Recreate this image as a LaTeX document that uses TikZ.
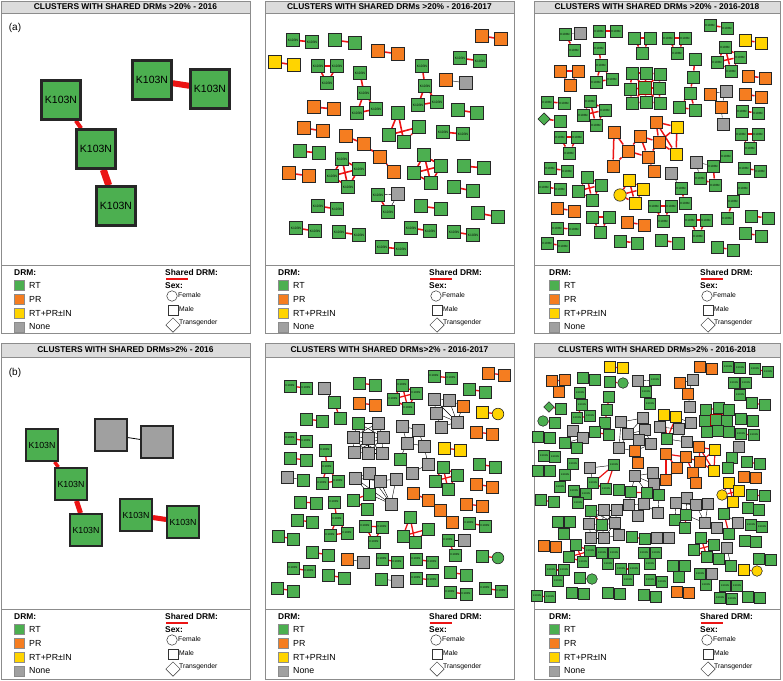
\documentclass[tikz,border=0pt]{standalone}
\usepackage{fontspec}
\setmainfont{Liberation Sans}
\usetikzlibrary{shapes.geometric}
\pgfdeclarelayer{bg}
\pgfsetlayers{bg,main}
\definecolor{cg}{RGB}{76,175,80}
\definecolor{co}{RGB}{245,125,32}
\definecolor{cy}{RGB}{255,212,0}
\definecolor{cn}{RGB}{160,160,160}
\definecolor{cred}{RGB}{235,20,20}
\definecolor{hdr}{RGB}{220,220,220}
\definecolor{cfr}{RGB}{140,140,140}
\tikzset{
 nb/.style={minimum size=13pt, line width=0.6pt},
 base/.style={rectangle, draw=black!85, inner sep=0pt, nb},
 G/.style={base, fill=cg},
 O/.style={base, fill=co},
 Y/.style={base, fill=cy},
 N/.style={base, fill=cn},
 GC/.style={G, circle},
 YC/.style={Y, circle},
 GD/.style={G, diamond},
 kf/.style={font=\fontsize{3}{3}\selectfont},
 Gk/.style={G, label={[kf, inner sep=0pt]center:K103N}},
 Gr/.style={G, draw=red!60!black, line width=1.3pt},
 shw/.style={line width=1.4pt},
 sh/.style={draw=cred, shw},
 tn/.style={draw=black, line width=0.4pt},
 lgb/.style={anchor=west, inner sep=0pt, font=\bfseries\fontsize{8.4}{9}\selectfont},
 ltx/.style={anchor=west, inner sep=0pt, font=\fontsize{8.8}{9}\selectfont},
 lsm/.style={anchor=west, inner sep=0pt, font=\fontsize{6.8}{7}\selectfont},
 lsq/.style={rectangle, draw=black!45, line width=.4pt, minimum size=9.5pt, inner sep=0pt},
 lsh/.style={draw=black!80, line width=.5pt, inner sep=0pt, fill=white},
}
\newcommand\panelframe[8]{%
 \draw[cfr, line width=0.8pt] (#2,#4) rectangle (#3,#7);
 \draw[cfr, fill=hdr, line width=0.8pt] (#2,#4) rectangle (#3,#5);
 \draw[cfr, line width=0.8pt] (#2,#6) -- (#3,#6);
 \node[font=\bfseries\fontsize{8.4}{9}\selectfont, inner sep=0pt] (#1title) at ({(#2+#3)/2},{(#4+#5)/2}) {#8};
}
\newcommand\drmlegend[3]{%
\begin{scope}[shift={(#2,#3)}]
\node[lgb] (#1drm) at (13,8) {DRM:};
\node[lsq,fill=cg] (#1q1) at (18,20) {};
\node[lsq,fill=co] (#1q2) at (18,34) {};
\node[lsq,fill=cy] (#1q3) at (18,48) {};
\node[lsq,fill=cn] (#1q4) at (18,62) {};
\node[ltx] (#1t1) at (28,20) {RT};
\node[ltx] (#1t2) at (28,34) {PR};
\node[ltx] (#1t3) at (28,48) {RT+PR±IN};
\node[ltx] (#1t4) at (28,62) {None};
\node[lgb] (#1sd) at (164,7) {Shared DRM:};
\coordinate (#1la) at (165,14);
\coordinate (#1lb) at (187,14);
\draw[cred, line width=1.2pt] (#1la) -- (#1lb);
\node[lgb] (#1sex) at (164,21) {Sex:};
\node[lsh, circle, minimum size=10.5pt] (#1fc) at (171,31) {};
\node[lsm] (#1ft) at (177,30) {Female};
\node[lsh, rectangle, minimum size=10.5pt] (#1mc) at (172,45) {};
\node[lsm] (#1mt) at (178,44) {Male};
\node[lsh, diamond, minimum size=14.5pt] (#1tc) at (172,60) {};
\node[lsm] (#1tt) at (178,58) {Transgender};
\end{scope}}
\begin{document}
\begin{tikzpicture}[x=1pt,y=-1pt]
\useasboundingbox (0,0) rectangle (783,680);
\begin{pgfonlayer}{bg}
\fill[white] (0,0) rectangle (783,680);
\end{pgfonlayer}
% frames
\panelframe{pa}{1}{250}{1}{13}{265}{333}{CLUSTERS WITH SHARED DRMs >20\% - 2016}
\panelframe{pb}{265}{514}{1}{13}{265}{333}{CLUSTERS WITH SHARED DRMs >20\% - 2016-2017}
\panelframe{pc}{534}{780}{1}{13}{265}{333}{CLUSTERS WITH SHARED DRMs >20\% - 2016-2018}
\panelframe{pd}{1}{250}{343}{357}{609}{679}{CLUSTERS WITH SHARED DRMs>2\% - 2016}
\panelframe{pe}{265}{514}{343}{357}{609}{679}{CLUSTERS WITH SHARED DRMs>2\% - 2016-2017}
\panelframe{pf}{534}{780}{343}{357}{609}{679}{CLUSTERS WITH SHARED DRMs>2\% - 2016-2018}
\drmlegend{la}{1}{265}
\drmlegend{lb}{265}{265}
\drmlegend{lc}{536}{265}
\drmlegend{ld}{1}{609}
\drmlegend{le}{265}{609}
\drmlegend{lf}{536}{609}
\node[font=\fontsize{10}{12}\selectfont, inner sep=0pt] (taga) at (15,28) {(a)};
\node[font=\fontsize{10}{12}\selectfont, inner sep=0pt] (tagb) at (15,373) {(b)};
% ---------- panel 1
\begin{scope}[nb/.style={minimum size=38.5pt, line width=3pt}, kf/.style={font=\fontsize{10.5}{11}\selectfont}]
\foreach \nm/\st/\x/\y in {a1/Gk/61/100, a2/Gk/96/149, a3/Gk/116/206, a4/Gk/152/80, a5/Gk/210/89}
  \node[\st] (\nm) at (\x,\y) {};
\begin{pgfonlayer}{bg}
\draw[cred, line width=4pt] (a1) -- (a2);
\draw[cred, line width=7pt] (a2) -- (a3);
\draw[cred, line width=6pt] (a4) -- (a5);
\end{pgfonlayer}
\end{scope}
% ---------- panel 4
\begin{scope}[nb/.style={minimum size=31.5pt, line width=2.4pt}, kf/.style={font=\fontsize{8.8}{9}\selectfont}]
\foreach \nm/\st/\x/\y in {d1/N/111/435, d2/N/157/442, d3/Gk/42/445, d4/Gk/71/484, d5/Gk/86/530, d6/Gk/136/515, d7/Gk/183/522}
  \node[\st] (\nm) at (\x,\y) {};
\begin{pgfonlayer}{bg}
\draw[black, line width=0.8pt] (d1) -- (d2);
\draw[cred, line width=3.5pt] (d3) -- (d4);
\draw[cred, line width=5pt] (d4) -- (d5);
\draw[cred, line width=5pt] (d6) -- (d7);
\end{pgfonlayer}
\end{scope}
% ---------- panel 2
\begin{scope}[nb/.style={minimum size=13.4pt, line width=0.6pt}, kf/.style={font=\fontsize{3.3}{3.5}\selectfont}, shw/.style={line width=1.6pt}]
\foreach \nm/\st/\x/\y in {b1/Gk/293/40, b2/Gk/312/42, b3/G/335/40, b4/G/355/43, b5/O/482/36, b6/O/501/39, b7/Y/275/62, b8/Y/294/65, b9/Gk/318/66, b10/Gk/337/66, b11/Gk/327/83, b12/O/378/51, b13/O/398/54, b14/Gk/460/58, b15/Gk/480/61, b16/Gk/360/73, b17/Gk/364/93, b18/Gk/357/113, b19/Gk/376/109, b20/Gk/422/66, b21/Gk/425/86, b22/Gk/418/105, b23/Gk/437/102, b24/O/446/80, b25/N/466/83, b26/O/314/107, b27/O/334/109, b28/G/458/110, b29/G/477/113, b30/G/398/113, b31/G/419/127, b32/G/389/135, b33/G/404/142, b34/O/304/128, b35/O/323/131, b36/Gk/443/132, b37/Gk/463/134, b38/O/346/136, b39/O/364/144, b40/O/380/157, b41/O/394/172, b42/G/300/151, b43/G/319/153, b44/Gk/342/159, b45/Gk/359/169, b46/Gk/332/176, b47/Gk/348/187, b48/G/424/155, b49/G/441/166, b50/G/414/173, b51/G/431/183, b52/O/289/173, b53/O/309/176, b54/G/464/166, b55/G/484/168, b56/G/454/187, b57/G/473/191, b58/Gk/378/195, b59/N/398/194, b60/Gk/388/212, b61/Gk/318/206, b62/Gk/337/209, b63/G/421/206, b64/G/441/209, b65/G/478/213, b66/G/498/217, b67/Gk/296/228, b68/Gk/315/231, b69/Gk/339/232, b70/Gk/359/235, b71/Gk/411/228, b72/Gk/430/231, b73/Gk/454/232, b74/Gk/473/235, b75/Gk/382/247, b76/Gk/401/249}
  \node[\st] (\nm) at (\x,\y) {};
\begin{pgfonlayer}{bg}
\foreach \a/\b in {b1/b2, b3/b4, b5/b6, b7/b8, b9/b10, b9/b11, b10/b11, b12/b13, b14/b15, b16/b17, b17/b18, b17/b19, b18/b19, b20/b21, b21/b22, b21/b23, b22/b23, b26/b27, b28/b29, b30/b32, b30/b33, b31/b32, b31/b33, b34/b35, b36/b37, b38/b39, b39/b40, b40/b41, b42/b43, b44/b45, b44/b46, b44/b47, b45/b46, b45/b47, b46/b47, b48/b49, b48/b50, b48/b51, b49/b50, b49/b51, b50/b51, b52/b53, b54/b55, b56/b57, b58/b60, b61/b62, b63/b64, b65/b66, b67/b68, b69/b70, b71/b72, b73/b74, b75/b76}
  \draw[sh] (\a) -- (\b);
\foreach \a/\b in {b24/b25, b58/b59, b59/b60}
  \draw[tn] (\a) -- (\b);
\end{pgfonlayer}
\end{scope}
% ---------- panel 3
\begin{scope}[nb/.style={minimum size=12.4pt, line width=0.6pt}, kf/.style={font=\fontsize{3}{3}\selectfont}, shw/.style={line width=1.5pt}]
\foreach \nm/\st/\x/\y in {c1/Gk/565/34, c2/N/580/33, c3/Gk/574/50, c4/Gk/599/31, c5/Gk/616/31, c6/G/634/38, c7/G/650/38, c8/G/642/53, c9/Gk/668/38, c10/Gk/685/38, c11/Gk/677/53, c12/Gk/710/25, c13/Gk/727/28, c14/Y/745/40, c15/Y/761/43, c16/Gk/599/48, c17/Gk/601/65, c18/Gk/596/82, c19/Gk/612/79, c20/Gk/725/47, c21/Gk/717/62, c22/Gk/740/57, c23/Gk/731/71, c24/O/560/71, c25/O/578/71, c26/O/570/85, c27/G/632/73, c28/G/646/73, c29/G/660/74, c30/G/630/89, c31/Gr/645/88, c32/G/659/88, c33/G/632/103, c34/G/646/102, c35/G/660/103, c36/G/695/59, c37/G/693/77, c38/G/690/93, c39/G/679/107, c40/G/695/110, c41/O/748/76, c42/O/765/78, c43/Gk/547/102, c44/Gk/564/103, c45/O/710/94, c46/N/726/91, c47/O/721/107, c48/N/723/124, c49/O/745/94, c50/O/761/97, c51/Gk/590/101, c52/Gk/605/110, c53/Gk/583/115, c54/Gk/596/125, c55/GD/544/119, c56/G/560/121, c57/Gk/742/111, c58/Gk/758/113, c59/O/656/122, c60/Y/677/127, c61/O/614/132, c62/O/640/136, c63/O/659/142, c64/O/628/151, c65/Y/676/154, c66/O/648/157, c67/O/613/166, c68/O/654/171, c69/Gk/560/137, c70/Gk/577/137, c71/Gk/569/153, c72/Gk/741/134, c73/Gk/758/134, c74/Gk/750/148, c75/N/696/162, c76/Gk/713/166, c77/Gk/726/156, c78/Gk/700/178, c79/Gk/715/185, c80/Gk/550/168, c81/Gk/567/171, c82/Gk/744/168, c83/Gk/760/171, c84/N/671/173, c85/Gk/681/188, c86/Gk/685/203, c87/G/587/177, c88/G/601/185, c89/G/578/191, c90/G/592/200, c91/Y/629/180, c92/Y/643/189, c93/YC/620/195, c94/Y/635/203, c95/Gk/544/187, c96/Gk/560/189, c97/Gk/743/188, c98/Gk/733/201, c99/Gk/727/218, c100/O/557/208, c101/O/574/211, c102/Gk/654/206, c103/Gk/671/206, c104/Gk/663/221, c105/G/592/217, c106/G/609/217, c107/G/600/232, c108/Gk/690/220, c109/Gk/706/220, c110/Gk/698/236, c111/G/751/216, c112/G/768/218, c113/O/627/222, c114/O/644/225, c115/Gk/557/228, c116/Gk/574/229, c117/G/745/233, c118/G/761/236, c119/Gk/547/243, c120/Gk/563/246, c121/G/620/241, c122/G/637/243, c123/G/661/240, c124/G/678/243, c125/G/717/247, c126/G/733/250}
  \node[\st] (\nm) at (\x,\y) {};
\begin{pgfonlayer}{bg}
\foreach \a/\b in {c1/c3, c4/c5, c6/c7, c6/c8, c7/c8, c9/c10, c9/c11, c10/c11, c12/c13, c14/c15, c16/c17, c17/c18, c17/c19, c18/c19, c20/c21, c20/c22, c21/c22, c21/c23, c22/c23, c20/c23, c24/c25, c24/c26, c25/c26, c27/c28, c28/c29, c30/c31, c31/c32, c33/c34, c34/c35, c27/c30, c30/c33, c28/c31, c31/c34, c29/c32, c32/c35, c27/c31, c29/c31, c33/c31, c35/c31, c36/c37, c37/c38, c38/c39, c38/c40, c39/c40, c41/c42, c43/c44, c45/c47, c49/c50, c51/c52, c51/c53, c51/c54, c52/c53, c52/c54, c53/c54, c55/c56, c57/c58, c59/c60, c59/c63, c59/c65, c60/c63, c60/c65, c61/c64, c61/c67, c62/c64, c62/c63, c62/c66, c63/c66, c63/c65, c64/c67, c64/c66, c66/c68, c69/c70, c69/c71, c70/c71, c72/c73, c72/c74, c73/c74, c76/c77, c76/c79, c76/c78, c78/c79, c80/c81, c82/c83, c85/c86, c87/c88, c87/c89, c87/c90, c88/c89, c88/c90, c89/c90, c91/c92, c91/c93, c91/c94, c92/c93, c92/c94, c93/c94, c95/c96, c97/c98, c98/c99, c100/c101, c102/c103, c102/c104, c103/c104, c105/c106, c105/c107, c106/c107, c108/c109, c108/c110, c109/c110, c111/c112, c113/c114, c115/c116, c117/c118, c119/c120, c121/c122, c123/c124, c125/c126}
  \draw[sh] (\a) -- (\b);
\foreach \a/\b in {c1/c2, c45/c46, c46/c47, c47/c48, c75/c76, c75/c78, c84/c85}
  \draw[tn] (\a) -- (\b);
\end{pgfonlayer}
\end{scope}
% ---------- panel 5
\begin{scope}[nb/.style={minimum size=11.6pt, line width=0.6pt}, kf/.style={font=\fontsize{2.8}{3}\selectfont}, shw/.style={line width=1.3pt}]
\foreach \nm/\st/\x/\y in {e1/Gk/290/386, e2/Gk/306/388, e3/N/324/388, e4/G/334/402, e5/G/340/418, e6/G/359/383, e7/G/375/385, e8/Gk/402/385, e9/Gk/416/393, e10/Gk/393/399, e11/Gk/408/408, e12/Gk/434/376, e13/Gk/451/378, e14/O/488/373, e15/O/504/375, e16/G/469/389, e17/G/485/392, e18/O/359/403, e19/O/375/405, e20/N/434/399, e21/N/449/400, e22/N/436/413, e23/N/441/427, e24/N/457/422, e25/O/463/406, e26/Y/482/412, e27/YC/498/414, e28/G/306/419, e29/G/322/421, e30/G/358/423, e31/N/378/423, e32/N/353/437, e33/N/368/438, e34/N/383/437, e35/N/354/452, e36/N/368/453, e37/N/382/453, e38/N/402/426, e39/N/418/430, e40/N/407/443, e41/N/424/446, e42/N/428/464, e43/N/412/473, e44/G/400/459, e45/O/476/432, e46/O/492/434, e47/Gk/290/438, e48/Gk/306/441, e49/Y/444/448, e50/Y/460/450, e51/Gk/325/450, e52/Gk/327/467, e53/Gk/322/483, e54/Gk/338/481, e55/G/290/458, e56/G/306/460, e57/G/479/464, e58/G/495/467, e59/G/443/467, e60/G/457/475, e61/G/435/481, e62/G/448/489, e63/N/287/477, e64/G/303/480, e65/N/355/478, e66/N/369/473, e67/N/380/481, e68/N/396/479, e69/G/369/494, e70/G/353/500, e71/G/367/509, e72/N/391/504, e73/O/413/493, e74/O/428/500, e75/O/440/510, e76/O/452/522, e77/O/476/484, e78/O/492/487, e79/G/300/502, e80/G/316/503, e81/O/466/504, e82/O/482/506, e83/Gk/334/502, e84/Gk/337/519, e85/Gk/330/535, e86/Gk/347/533, e87/G/297/520, e88/G/312/522, e89/G/410/517, e90/G/428/529, e91/G/403/536, e92/G/415/542, e93/Gk/365/526, e94/Gk/382/527, e95/Gk/374/542, e96/Gk/469/523, e97/Gk/485/526, e98/G/278/536, e99/G/293/539, e100/Gk/448/540, e101/N/464/540, e102/Gk/455/555, e103/G/312/552, e104/G/328/555, e105/G/482/556, e106/GC/498/558, e107/O/347/559, e108/N/363/562, e109/Gk/382/559, e110/Gk/397/562, e111/Gk/416/559, e112/Gk/432/562, e113/Gk/293/568, e114/Gk/309/571, e115/G/328/575, e116/G/344/578, e117/G/450/572, e118/G/466/575, e119/G/381/579, e120/N/397/581, e121/Gk/416/578, e122/Gk/432/580, e123/G/277/588, e124/G/293/591, e125/Gk/450/592, e126/Gk/466/594, e127/Gk/485/588, e128/Gk/501/591}
  \node[\st] (\nm) at (\x,\y) {};
\begin{pgfonlayer}{bg}
\foreach \a/\b in {e1/e2, e4/e5, e6/e7, e8/e9, e8/e10, e8/e11, e9/e10, e9/e11, e10/e11, e12/e13, e14/e15, e16/e17, e18/e19, e26/e27, e28/e29, e45/e46, e47/e48, e49/e50, e51/e52, e52/e53, e52/e54, e53/e54, e55/e56, e57/e58, e59/e60, e59/e61, e59/e62, e60/e61, e60/e62, e61/e62, e69/e70, e70/e71, e73/e74, e74/e75, e75/e76, e77/e78, e79/e80, e81/e82, e83/e84, e84/e85, e84/e86, e85/e86, e87/e88, e89/e91, e89/e92, e90/e91, e90/e92, e91/e92, e93/e94, e93/e95, e94/e95, e96/e97, e98/e99, e100/e102, e103/e104, e105/e106, e109/e110, e111/e112, e113/e114, e115/e116, e117/e118, e121/e122, e123/e124, e125/e126, e127/e128}
  \draw[sh] (\a) -- (\b);
\foreach \a/\b in {e3/e4, e20/e21, e20/e22, e21/e22, e22/e23, e22/e24, e21/e24, e23/e24, e24/e25, e20/e24, e21/e25, e30/e31, e30/e32, e30/e33, e31/e33, e31/e34, e32/e33, e33/e34, e32/e35, e33/e36, e34/e37, e35/e36, e36/e37, e32/e36, e33/e35, e33/e37, e34/e36, e31/e32, e30/e34, e32/e37, e35/e34, e38/e39, e38/e40, e39/e41, e40/e41, e41/e42, e42/e43, e40/e44, e39/e40, e43/e44, e63/e64, e65/e66, e65/e67, e66/e67, e67/e68, e65/e69, e66/e69, e67/e69, e67/e72, e69/e72, e68/e72, e66/e72, e65/e72, e100/e101, e107/e108, e119/e120}
  \draw[tn] (\a) -- (\b);
\end{pgfonlayer}
\end{scope}
% ---------- panel 6
\begin{scope}[nb/.style={minimum size=10.6pt, line width=0.55pt}, kf/.style={font=\fontsize{2.5}{3}\selectfont}, shw/.style={line width=1.2pt}]
\foreach \nm/\st/\x/\y in {f1/Y/610/367, f2/Y/623/368, f3/O/700/367, f4/O/712/369, f5/Gk/728/367, f6/Gk/740/368, f7/Gk/755/369, f8/Gk/768/372, f9/O/552/381, f10/O/565/380, f11/O/559/392, f12/G/583/378, f13/G/595/380, f14/G/610/382, f15/GC/623/383, f16/N/638/381, f17/Gk/655/380, f18/Gk/646/392, f19/Gk/650/404, f20/O/680/383, f21/N/693/380, f22/O/688/394, f23/N/690/407, f24/Gk/734/383, f25/Gk/746/383, f26/Gk/740/395, f27/Gk/580/393, f28/Gk/582/405, f29/Gk/577/418, f30/Gk/590/416, f31/GD/549/407, f32/G/561/409, f33/G/609/397, f34/G/607/410, f35/G/605/423, f36/G/595/432, f37/G/609/435, f38/G/752/403, f39/G/765/405, f40/Y/664/415, f41/Y/676/417, f42/N/660/427, f43/N/679/429, f44/G/667/439, f45/N/691/423, f46/N/687/442, f47/G/706/410, f48/G/719/408, f49/G/729/410, f50/G/705/421, f51/Gr/716/420, f52/G/727/421, f53/G/707/432, f54/G/718/431, f55/G/729/432, f56/GC/543/421, f57/G/555/423, f58/N/621/422, f59/N/643/418, f60/N/645/430, f61/N/628/434, f62/N/639/440, f63/N/651/444, f64/N/619/448, f65/O/635/451, f66/O/638/463, f67/G/741/419, f68/G/753/421, f69/N/573/431, f70/N/583/438, f71/G/565/443, f72/G/577/448, f73/G/538/437, f74/G/550/438, f75/Gk/741/434, f76/Gk/754/435, f77/N/739/447, f78/G/732/458, f79/G/728/468, f80/O/699/447, f81/Y/715/450, f82/O/666/454, f83/O/686/457, f84/O/700/462, f85/O/677/468, f86/Y/714/471, f87/O/693/473, f88/O/666/480, f89/O/696/483, f90/Gk/544/456, f91/Gk/555/457, f92/G/747/462, f93/G/760/464, f94/G/538/471, f95/G/550/471, f96/Gk/573/464, f97/Gk/565/475, f98/Gk/560/487, f99/N/590/468, f100/Gk/614/465, f101/Gk/593/483, f102/Gk/606/489, f104/O/744/477, f105/O/756/478, f106/N/635/476, f107/N/653/473, f108/N/654/484, f109/G/619/490, f110/G/631/492, f111/G/647/493, f112/G/659/495, f113/N/629/505, f114/N/644/504, f115/N/658/513, f116/N/638/516, f117/Y/729/483, f118/YC/722/495, f119/Y/739/491, f120/Y/733/502, f121/Gk/574/491, f122/Gk/586/494, f123/Gk/578/503, f125/G/541/500, f126/G/554/502, f127/G/752/495, f128/G/765/496, f129/N/676/503, f130/N/687/498, f131/N/696/505, f132/N/708/504, f133/G/686/515, f134/G/675/520, f135/G/685/528, f136/N/705/523, f137/G/748/508, f138/G/759/510, f139/G/591/511, f140/N/604/510, f141/N/617/510, f142/N/589/524, f143/G/602/525, f144/N/615/523, f145/N/619/535, f146/N/591/538, f147/N/604/538, f148/G/724/514, f149/N/738/523, f150/N/717/528, f151/G/729/534, f152/G/558/522, f153/G/570/522, f154/G/564/534, f155/Gk/751/525, f156/Gk/762/527, f157/G/632/537, f158/G/645/539, f159/N/657/538, f160/N/669/538, f161/G/745/541, f162/G/756/542, f163/O/544/546, f164/O/556/547, f165/G/576/545, f166/Gk/590/551, f167/G/569/557, f168/Gk/583/562, f169/G/701/538, f170/G/714/545, f171/G/694/550, f172/G/707/557, f173/N/727/548, f174/G/719/559, f175/G/731/566, f176/Gk/602/553, f177/Gk/614/553, f178/Gk/608/564, f179/Gk/644/553, f180/Gk/656/553, f181/Gk/650/564, f182/Gk/621/569, f183/Gk/634/569, f184/Gk/628/580, f185/G/673/566, f186/G/685/566, f187/G/679/577, f188/G/759/559, f189/G/771/560, f190/Y/744/570, f191/YC/757/571, f192/Gk/551/570, f193/Gk/564/570, f194/Gk/558/581, f195/G/580/578, f196/GC/592/579, f197/Gk/700/574, f198/N/712/574, f199/Gk/706/585, f200/Gk/650/580, f201/Gk/662/582, f202/Gk/725/586, f203/Gk/737/586, f204/Gk/537/596, f205/Gk/550/597, f206/G/572/593, f207/G/584/594, f208/G/608/593, f209/G/620/594, f210/G/644/595, f211/G/656/597, f212/O/677/592, f213/O/689/593, f214/Gk/720/598, f215/Gk/732/599, f216/G/748/597, f217/G/760/598}
  \node[\st] (\nm) at (\x,\y) {};
\begin{pgfonlayer}{bg}
\foreach \a/\b in {f1/f2, f3/f4, f5/f6, f7/f8, f12/f13, f14/f15, f31/f32, f38/f39, f56/f57, f67/f68, f73/f74, f75/f76, f90/f91, f92/f93, f94/f95, f104/f105, f125/f126, f127/f128, f137/f138, f155/f156, f161/f162, f163/f164, f188/f189, f190/f191, f195/f196, f200/f201, f202/f203, f204/f205, f206/f207, f208/f209, f210/f211, f212/f213, f214/f215, f216/f217, f9/f10, f9/f11, f10/f11, f17/f18, f18/f19, f20/f22, f24/f25, f24/f26, f25/f26, f27/f28, f28/f29, f28/f30, f29/f30, f33/f34, f34/f35, f35/f36, f35/f37, f36/f37, f40/f41, f40/f44, f41/f44, f47/f48, f48/f49, f50/f51, f51/f52, f53/f54, f54/f55, f47/f50, f50/f53, f48/f51, f51/f54, f49/f52, f52/f55, f47/f51, f49/f51, f53/f51, f55/f51, f65/f66, f71/f72, f78/f79, f80/f81, f80/f84, f80/f86, f81/f84, f81/f86, f82/f88, f82/f85, f83/f85, f83/f84, f83/f87, f84/f87, f85/f88, f87/f89, f84/f86, f82/f83, f96/f97, f97/f98, f100/f101, f100/f102, f101/f102, f109/f110, f110/f111, f111/f112, f117/f118, f117/f119, f117/f120, f118/f119, f118/f120, f119/f120, f121/f122, f121/f123, f122/f123, f133/f134, f134/f135, f133/f135, f139/f143, f148/f151, f152/f153, f152/f154, f153/f154, f157/f158, f165/f166, f165/f167, f165/f168, f166/f167, f166/f168, f167/f168, f169/f170, f169/f171, f169/f172, f170/f171, f170/f172, f171/f172, f174/f175, f176/f177, f176/f178, f177/f178, f179/f180, f179/f181, f180/f181, f182/f183, f182/f184, f183/f184, f185/f186, f185/f187, f186/f187, f192/f193, f192/f194, f193/f194, f197/f199}
  \draw[sh] (\a) -- (\b);
\foreach \a/\b in {f16/f17, f16/f18, f20/f21, f21/f22, f22/f23, f42/f43, f42/f44, f43/f45, f43/f46, f44/f46, f41/f45, f40/f42, f58/f59, f58/f61, f58/f64, f59/f60, f59/f61, f60/f61, f60/f62, f60/f63, f61/f62, f61/f64, f62/f63, f62/f65, f63/f65, f64/f65, f58/f62, f69/f70, f69/f71, f70/f72, f70/f71, f77/f78, f99/f100, f99/f101, f106/f107, f106/f108, f107/f108, f106/f110, f107/f111, f108/f112, f110/f113, f111/f114, f112/f115, f113/f114, f114/f115, f114/f116, f113/f116, f108/f111, f106/f111, f129/f130, f129/f131, f130/f131, f131/f132, f129/f133, f130/f133, f131/f133, f133/f136, f132/f136, f131/f136, f129/f134, f139/f140, f140/f141, f139/f142, f140/f143, f141/f144, f142/f143, f143/f144, f144/f145, f142/f146, f143/f146, f143/f147, f146/f147, f147/f145, f140/f142, f141/f143, f140/f144, f142/f147, f144/f147, f139/f144, f149/f151, f150/f151, f149/f148, f158/f159, f159/f160, f173/f174, f173/f175, f197/f198, f198/f199}
  \draw[tn] (\a) -- (\b);
\end{pgfonlayer}
\end{scope}
\end{tikzpicture}
\end{document}
